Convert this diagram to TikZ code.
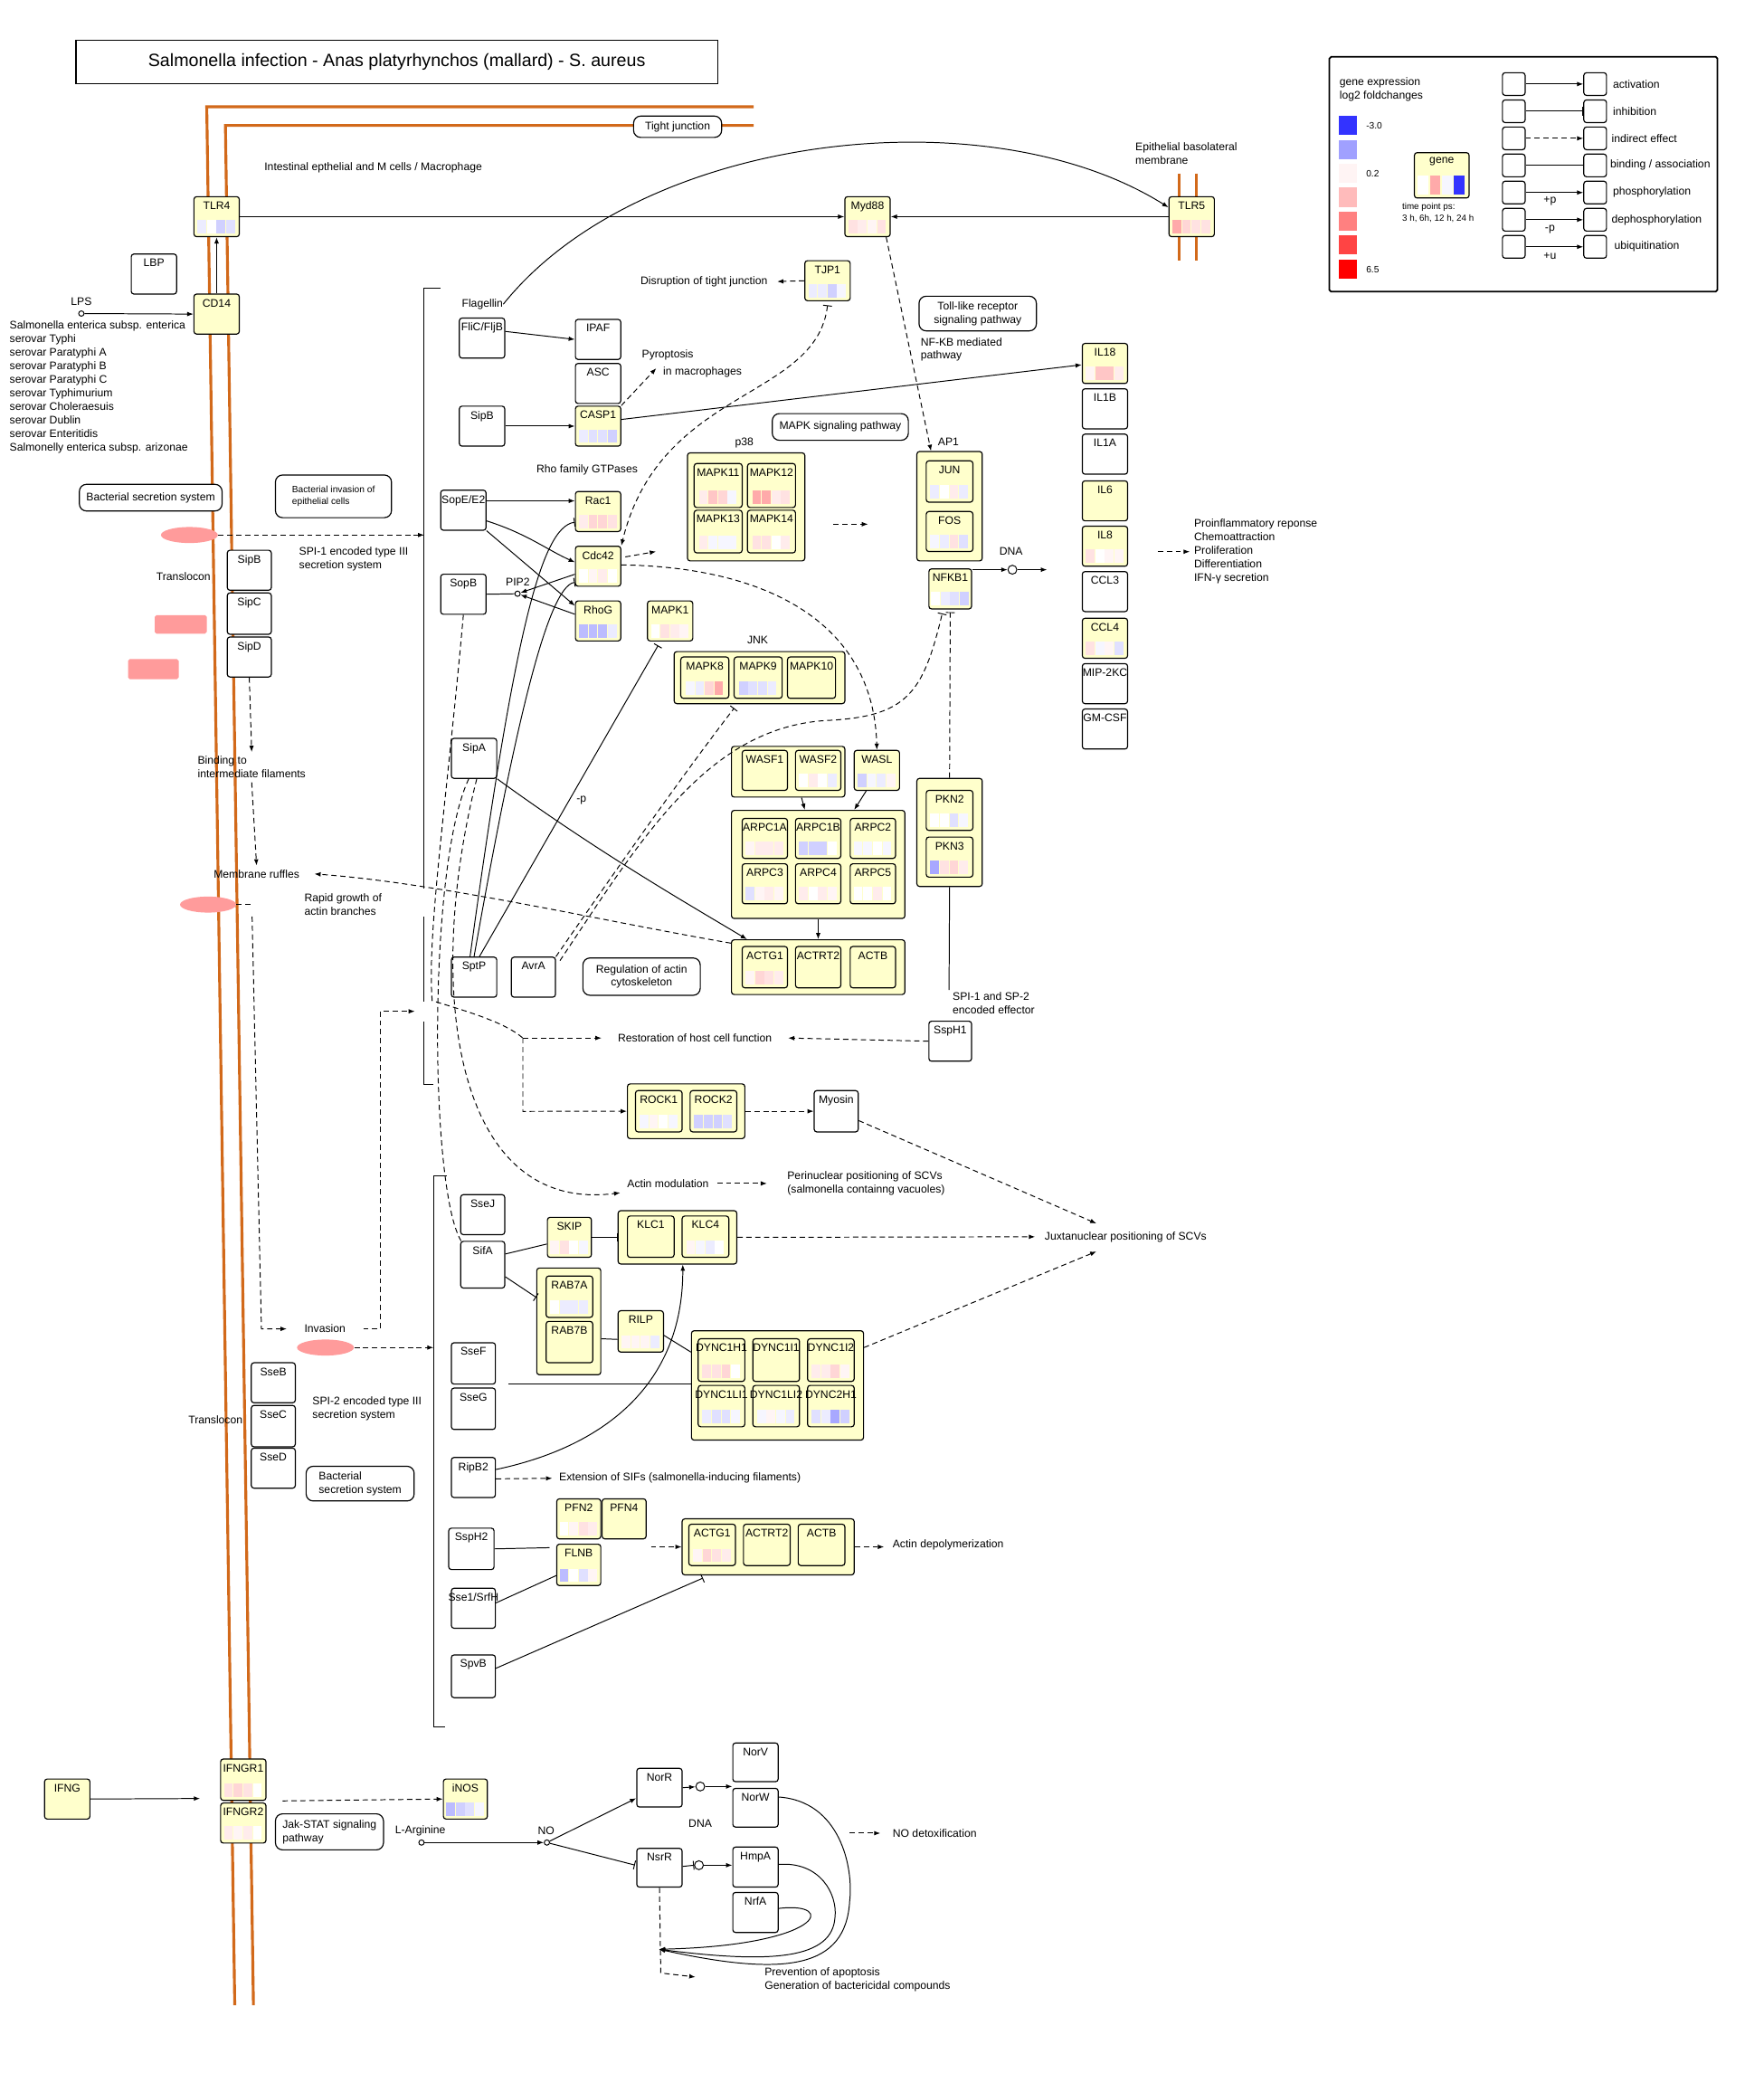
\documentclass[tikz,border=0pt]{standalone}
\usepackage{fontspec}
\setmainfont{Liberation Sans}
\usetikzlibrary{arrows.meta,calc,shapes.geometric}

\definecolor{geneyel}{HTML}{FFFFCC}
\definecolor{memb}{HTML}{D2691A}
\definecolor{pinkell}{HTML}{FF9B9B}
\definecolor{wh}{HTML}{FFFFFF}
\definecolor{b0}{HTML}{F6F6FF}
\definecolor{b1}{HTML}{ECECFF}
\definecolor{b2}{HTML}{E0E0FF}
\definecolor{b3}{HTML}{D0D0FF}
\definecolor{b4}{HTML}{BCBCFF}
\definecolor{b5}{HTML}{A8A8FF}
\definecolor{r0}{HTML}{FFF5F5}
\definecolor{r1}{HTML}{FFECEC}
\definecolor{r2}{HTML}{FFE2E2}
\definecolor{r3}{HTML}{FFD6D6}
\definecolor{r4}{HTML}{FFC6C6}
\definecolor{r5}{HTML}{FFAAAA}
\definecolor{lg1}{HTML}{3333FF}
\definecolor{lg2}{HTML}{A0A0FF}
\definecolor{lg3}{HTML}{FFF4F4}
\definecolor{lg4}{HTML}{FFBBBB}
\definecolor{lg5}{HTML}{FF8080}
\definecolor{lg6}{HTML}{FF4444}
\definecolor{lg7}{HTML}{FF0000}

% gene box: [style]{name}{top left}{label}
\newcommand{\gbox}[4][gene]{\node[#1,label={[glabel]north:#4}] (#2) at (#3) {};}
% expression bars at the foot of a gene box
\newcommand{\bars}[2]{\foreach \bc [count=\bi from 0] in {#2}
  {\fill[\bc] ($(#1.south)+(-14.4+7.2*\bi,-3)$) rectangle +(6.6,-10);}}

\tikzset{
  gene/.style={draw,line width=0.6pt,fill=geneyel,rounded corners=1.5pt,anchor=north west,
    inner sep=0,minimum width=25.5pt,minimum height=22.5pt},
  wbox/.style={gene,fill=white},
  grp/.style={gene},
  sz/.style 2 args={minimum width=#1*0.75pt,minimum height=#2*0.75pt},
  glabel/.style={anchor=north,inner xsep=0,inner ysep=2.9pt},
  pw/.style={draw,line width=0.6pt,fill=white,rounded corners=4pt,inner sep=1pt,align=center},
  txt/.style={anchor=west,inner sep=0,align=left},
  cpd/.style={circle,draw,fill=white,inner sep=0,minimum size=3pt,line width=0.5pt},
  dna/.style={cpd,minimum size=5pt},
  ell/.style={ellipse,fill=pinkell,inner sep=0,minimum height=9pt},
  lnk/.style={line width=0.5pt},
  dsh/.style={lnk,dash pattern=on 3pt off 2pt},
  act/.style={lnk,-{Latex[length=3.5pt,width=2.6pt]}},
  ind/.style={act,dash pattern=on 3pt off 2pt},
  inh/.style={lnk,-{Bar[width=5pt]}},
  dinh/.style={inh,dash pattern=on 3pt off 2pt},
  membl/.style={memb,line width=1.6pt}
}

\begin{document}
\begin{tikzpicture}[x=0.75pt,y=-0.75pt,font=\fontsize{6.2}{7.6}\selectfont]
\path[use as bounding box,fill=white] (0,0) rectangle (1322,1568);

% membranes
\draw[membl] (565,80) -- (155,80) -- (176,1503);
\draw[membl] (565,94) -- (169,94) -- (190,1503);
\draw[membl] (884,130) -- (884,195) (897,130) -- (897,195);

\node[draw,line width=0.6pt,sz={481}{33},font=\fontsize{10}{12}\selectfont] (title) at (297.5,46.5)
  {Salmonella infection - Anas platyrhynchos (mallard) - S. aureus};

% legend
\node[draw,line width=0.9pt,rounded corners=1pt,sz={291}{176},anchor=north west] (legend) at (996,42) {};
\node[txt] (lgexp) at (1004,67) {gene expression\\log2 foldchanges};
\foreach \bc [count=\bi from 0] in {lg1,lg2,lg3,lg4,lg5,lg6,lg7}
  \fill[\bc] (1004,87+17.9*\bi) rectangle +(13.6,14.3);
\node[txt,font=\fontsize{5.2}{6}\selectfont] (lgmin) at (1024,94) {-3.0};
\node[txt,font=\fontsize{5.2}{6}\selectfont] (lgmid) at (1024,130) {0.2};
\node[txt,font=\fontsize{5.2}{6}\selectfont] (lgmax) at (1024,202) {6.5};
\gbox[gene,sz={41}{34}]{lggene}{1060,114}{gene}
\foreach \bc [count=\bi from 0] in {wh,r5,b0,lg1}
  \fill[\bc] (1063+9*\bi,131.5) rectangle +(8,14);
\node[txt,font=\fontsize{5}{6.6}\selectfont] (lgtime) at (1051,159.5) {time point ps:\\3 h, 6h, 12 h, 24 h};
\foreach \yy [count=\k] in {63,83.4,103.7,124,144.3,164.7,185} {
  \node[wbox,sz={17}{17},anchor=west] (la\k) at (1126,\yy) {};
  \node[wbox,sz={17}{17},anchor=west] (lb\k) at (1187,\yy) {};
}
\draw[act] (la1) -- (lb1);
\draw[inh] (la2) -- (lb2);
\draw[ind] (la3) -- (lb3);
\draw[lnk] (la4) -- (lb4);
\draw[act] (la5) -- (lb5);
\draw[act] (la6) -- (lb6);
\draw[act] (la7) -- (lb7);
\node[txt] (lt1) at (1209,63) {activation};
\node[txt] (lt2) at (1209,83.4) {inhibition};
\node[txt] (lt3) at (1208,103.7) {indirect effect};
\node[txt] (lt4) at (1207,124) {binding / association};
\node[txt] (lt5) at (1209,144.3) {phosphorylation};
\node[txt] (lt6) at (1208,164.7) {dephosphorylation};
\node[txt] (lt7) at (1210,185) {ubiquitination};
\node (lp1) at (1162,151) {+p};
\node (lp2) at (1162,172) {-p};
\node (lp3) at (1162,192) {+u};

% membrane receptors
\node[pw,sz={66}{16}] (tj) at (508,95) {Tight junction};
\node[txt] (tintest) at (198,126) {Intestinal epthelial and M cells / Macrophage};
\node[txt] (tbaso) at (851,115) {Epithelial basolateral\\membrane};
\gbox{tlr4}{145,147}{TLR4} \bars{tlr4}{b1,wh,b3,b2}
\gbox{cd14}{145,220}{CD14}
\gbox[wbox]{lbp}{98,190}{LBP}
\gbox{myd88}{633,147}{Myd88} \bars{myd88}{r2,r1,r0,r2}
\gbox{tlr5}{876,147}{TLR5} \bars{tlr5}{r5,r3,r2,r2}
\node[cpd] (lps) at (61,235) {};
\node (tlps) at (61,226) {LPS};
\node[txt,anchor=north west] (tsal) at (7,240.5) {Salmonella enterica subsp. enterica\\serovar Typhi\\serovar Paratyphi A\\serovar Paratyphi B\\serovar Paratyphi C\\serovar Typhimurium\\serovar Choleraesuis\\serovar Dublin\\serovar Enteritidis\\Salmonelly enterica subsp. arizonae};
\draw[act] (lps) -- (cd14.west);
\draw[act] (cd14.north) -- (tlr4.south);
\draw[act] (tlr4.east) -- (myd88.west);
\draw[act] (tlr5.west) -- (myd88.east);

\node[txt] (flag) at (346,228) {Flagellin};
\draw[act] (flag.east) .. controls (480,100) and (740,70) .. ($(tlr5.west)+(0,-7)$);

\gbox{tjp1}{603,195}{TJP1} \bars{tjp1}{b1,b1,b3,b0}
\node[txt] (tdisr) at (480,211) {Disruption of tight junction};
\draw[ind] (tjp1.west) -- ($(tdisr.east)+(7,0)$);
\node[pw,sz={88}{26}] (tlrpw) at (733,235) {Toll-like receptor\\signaling pathway};
\node[txt] (tnfkb) at (690,262) {NF-KB mediated\\pathway};

% inflammasome
\gbox[wbox]{flic}{344,238}{FliC/FljB}
\gbox[wbox]{ipaf}{431,239}{IPAF}
\gbox[wbox]{asc}{431,272}{ASC}
\gbox{casp1}{431,304}{CASP1} \bars{casp1}{b1,b2,b2,b3}
\gbox[wbox]{sipb}{344,304}{SipB}
\draw[act] ($(flic.east)+(0,-5)$) -- (ipaf.west);
\draw[act] (sipb.east) -- (casp1.west);
\node[txt] (tpyro) at (481,266) {Pyroptosis};
\node[txt] (tmacro) at (497,279) {in macrophages};
\draw[ind] (casp1.north east) -- ($(tmacro.west)+(-5,-3)$);

% cytokines
\gbox{il18}{811,257}{IL18} \bars{il18}{r0,r4,r4,r1}
\gbox[wbox]{il1b}{811,291}{IL1B}
\gbox[wbox]{il1a}{811,325}{IL1A}
\gbox{il6}{811,360}{IL6}
\gbox{il8}{811,394}{IL8} \bars{il8}{r2,wh,r0,r0}
\gbox[wbox]{ccl3}{811,428}{CCL3}
\gbox{ccl4}{811,463}{CCL4} \bars{ccl4}{r2,b0,r0,b2}
\gbox[wbox]{mip}{811,497}{MIP-2KC}
\gbox[wbox]{gmcsf}{811,531}{GM-CSF}
\draw[act] ($(casp1.east)+(0,-5)$) -- ($(il18.west)+(0,1)$);
\node[txt] (tinfl) at (895,413.5) {Proinflammatory reponse\\Chemoattraction\\Proliferation\\Differentiation\\IFN-γ secretion};
\draw[ind] ($(tinfl.west)+(-27,0)$) -- ($(tinfl.west)+(-3,0)$);

% MAPK
\node[pw,sz={102}{20}] (mapkpw) at (630,320) {MAPK signaling pathway};
\node (tp38) at (558,332) {p38};
\node[grp,sz={88}{81}] (p38) at (515,339) {};
\gbox[gene,sz={36}{33}]{mapk11}{520,347}{MAPK11} \bars{mapk11}{r1,r4,r3,b0}
\gbox[gene,sz={36}{33}]{mapk12}{560,347}{MAPK12} \bars{mapk12}{r5,r5,r1,r2}
\gbox[gene,sz={36}{32}]{mapk13}{520,382}{MAPK13} \bars{mapk13}{r1,b0,b0,b0}
\gbox[gene,sz={36}{32}]{mapk14}{560,382}{MAPK14} \bars{mapk14}{r2,r2,wh,r1}
\draw[ind] ($(p38.east)+(21,13)$) -- ($(p38.east)+(47,13)$);

\node[txt] (tap1) at (703,331) {AP1};
\node[grp,sz={49}{82}] (ap1) at (687,338) {};
\gbox[gene,sz={35}{31}]{jun}{694,345}{JUN} \bars{jun}{b1,wh,r1,b1}
\gbox[gene,sz={35}{30}]{fos}{694,383}{FOS} \bars{fos}{b0,b1,r2,b2}
\gbox[gene,sz={32}{30}]{nfkb1}{696,426}{NFKB1} \bars{nfkb1}{wh,b1,b2,b3}
\draw[ind] ($(myd88.south)+(14,0)$) -- ($(ap1.north west)+(11,0)$);
\node[dna] (dna1) at (759,427) {};
\node[txt] (tdna1) at (749,413) {DNA};
\draw[act] ($(nfkb1.north east)+(0,1)$) -- (dna1);
\draw[act] (dna1) -- ($(dna1)+(26,0)$);

% Rho GTPases
\node[txt] (trho) at (402,352) {Rho family GTPases};
\gbox[wbox]{sope}{330,367}{SopE/E2}
\gbox{rac1}{431,368}{Rac1} \bars{rac1}{r1,r3,r3,r2}
\gbox{cdc42}{431,409}{Cdc42} \bars{cdc42}{wh,r0,r1,wh}
\gbox{rhog}{431,450}{RhoG} \bars{rhog}{b4,b4,b4,b1}
\gbox{mapk1}{485,450}{MAPK1} \bars{mapk1}{wh,r2,r1,r0}
\gbox[wbox]{sopb}{330,430}{SopB}
\node[cpd] (pip2) at (388,445) {};
\node[txt] (tpip2) at (379,436) {PIP2};
\draw[act] ($(sope.east)+(0,-7)$) -- ($(rac1.west)+(0,-8)$);
\draw[act] ($(sope.east)+(0,8)$) .. controls (395,400) and (410,412) .. ($(cdc42.west)+(0,-3)$);
\draw[act] (sope.south east) -- ($(rhog.north west)+(0,4)$);
\draw[lnk] (sopb.east) -- (pip2);
\draw[act] ($(cdc42.west)+(0,6)$) -- (pip2);
\draw[act] ($(rhog.west)+(0,-5)$) -- (pip2);
\draw[ind] ($(cdc42.east)+(3,-7)$) -- ($(cdc42.east)+(26,-11)$);
\draw[{Bar[width=5pt]}-{Latex[length=3.5pt,width=2.6pt]},lnk,dash pattern=on 3pt off 2pt]
  ($(tjp1.south)+(0,3)$) .. controls (612,300) and (495,290) .. (cdc42.north east);

% JNK
\node (tjnk) at (568,480) {JNK};
\node[grp,sz={128}{39}] (jnk) at (505,488) {};
\gbox[gene,sz={36}{31}]{mapk8}{510,492}{MAPK8} \bars{mapk8}{b0,b1,r3,r5}
\gbox[gene,sz={36}{31}]{mapk9}{550,492}{MAPK9} \bars{mapk9}{b3,b2,b2,b1}
\gbox[gene,sz={36}{31}]{mapk10}{590,492}{MAPK10}

% actin
\node[grp,sz={85}{38}] (wasf) at (548,559) {};
\gbox{wasf1}{556,562}{WASF1}
\gbox{wasf2}{596,562}{WASF2} \bars{wasf2}{wh,r1,wh,b1}
\gbox{wasl}{640,562}{WASL} \bars{wasl}{b3,b0,b1,r0}
\node[grp,sz={130}{81}] (arpc) at (548,607) {};
\gbox{arpc1a}{556,613}{ARPC1A} \bars{arpc1a}{r0,r1,r1,r1}
\gbox{arpc1b}{596,613}{ARPC1B} \bars{arpc1b}{b3,b3,b3,wh}
\gbox{arpc2}{637,613}{ARPC2} \bars{arpc2}{b0,b0,wh,b0}
\gbox{arpc3}{556,647}{ARPC3} \bars{arpc3}{b2,r0,r1,r0}
\gbox{arpc4}{596,647}{ARPC4} \bars{arpc4}{r1,wh,r1,r0}
\gbox{arpc5}{637,647}{ARPC5} \bars{arpc5}{wh,wh,r1,wh}
\node[grp,sz={130}{41}] (actg) at (548,704) {};
\gbox[gene,sz={34}{31}]{actg1}{556,709}{ACTG1} \bars{actg1}{r0,r3,r2,r1}
\gbox[gene,sz={34}{31}]{actrt2}{596,709}{ACTRT2}
\gbox[gene,sz={34}{31}]{actb}{637,709}{ACTB}
\draw[act] ($(wasf.south)+(10,0)$) -- ($(arpc.north)+(-10,0)$);
\draw[act] ($(wasl.south)+(-8,0)$) -- ($(arpc.north)+(27,0)$);
\draw[act] (arpc.south) -- (actg.north);
\draw[ind] ($(cdc42.east)+(0,-1)$) .. controls (580,425) and (655,470) .. (wasl.north);

\node[grp,sz={49}{81}] (pkn) at (687,583) {};
\gbox[gene,sz={35}{30}]{pkn2}{694,592}{PKN2} \bars{pkn2}{wh,wh,b2,b0}
\gbox[gene,sz={35}{30}]{pkn3}{694,627}{PKN3} \bars{pkn3}{b5,r2,r3,r1}
\draw[dinh] (pkn.north) -- ($(nfkb1.south)+(0,2)$);
\coordinate (spiend) at (711.5,742);
\draw[lnk] (pkn.south) -- (spiend);
\node[txt] (tspi12) at (714,752) {SPI-1 and SP-2\\encoded effector};
\gbox[wbox,sz={32}{30}]{ssph1}{696,765}{SspH1}

% SPI-1 effectors
\gbox[wbox]{sipa}{338,553}{SipA}
\gbox[wbox]{sptp}{338,717}{SptP}
\gbox[wbox,sz={33}{30}]{avra}{383,717}{AvrA}
\node[pw,sz={88}{28}] (actreg) at (481,732) {Regulation of actin\\cytoskeleton};
\node[txt] (tminp) at (432,600) {-p};
\draw[inh] ($(sptp.north)+(-3,0)$) .. controls (385,480) and (405,395) .. ($(rac1.west)+(0,8)$);
\draw[inh] (sptp.north) .. controls (385,550) and (410,440) .. ($(cdc42.west)+(0,12)$);
\draw[inh] ($(sptp.north)+(4,0)$) -- ($(mapk1.south)+(-9,3)$);
\draw[dinh] (avra.north east) .. controls (470,640) and (520,570) .. ($(jnk.south)+(-19,3)$);
\draw[dinh] ($(avra.north east)+(3,3)$) .. controls (480,630) and (530,545) .. (620,540)
  .. controls (680,537) and (692,520) .. ($(nfkb1.south)+(-6,3)$);
\draw[act] (sipa.south east) .. controls (450,640) and (520,680) .. ($(actg.north west)+(12,0)$);

% SPI-1 secretion
\node[pw,sz={107}{20}] (bss1) at (113,373) {Bacterial secretion system};
\node[pw,sz={87}{32},font=\fontsize{5.2}{6.6}\selectfont,align=left] (binv) at (250,372) {Bacterial invasion of\\epithelial cells};
\node[ell,minimum width=32pt] (ell1) at (142,401) {};
\coordinate (br1a) at (318,401);
\draw[ind] (ell1.east) -- (br1a);
\gbox[wbox,sz={33}{30}]{sipb2}{170,412}{SipB}
\gbox[wbox,sz={33}{31}]{sipc}{170,444}{SipC}
\gbox[wbox,sz={33}{30}]{sipd}{170,477}{SipD}
\node[txt] (ttrans1) at (117,432) {Translocon};
\node[txt] (tspi1) at (224,419) {SPI-1 encoded type III\\secretion system};
\fill[pinkell,rounded corners=1pt] (116,461) rectangle (155,475);
\fill[pinkell,rounded corners=1pt] (96,494) rectangle (134,509);
\node[txt] (tbind) at (148,575) {Binding to\\intermediate filaments};
\draw[ind] (sipd.south) -- ($(tbind.north)+(0,-3)$);
\node[txt] (trfl) at (160,655) {Membrane ruffles};
\draw[ind] ($(tbind.south)+(0,3)$) -- ($(trfl.north)+(0,-3)$);
\draw[ind] ($(actg.west)+(0,-18)$) .. controls (450,690) and (330,662) .. ($(trfl.east)+(11,0)$);
\node[ell,minimum width=31.5pt] (ell2) at (156,678) {};
\node[txt] (trapid) at (228,678) {Rapid growth of\\actin branches};
\node[txt] (tinv) at (228,996) {Invasion};
\draw[dsh] (ell2.east) -- (189,678);
\draw[ind] (189,687) -- (196,996) -- ($(tinv.west)+(-13,0)$);
\draw[ind] ($(tinv.east)+(13,0)$) -- (285,996) -- (285,758) -- (311,758);
\node[ell,minimum width=32pt] (ell3) at (244,1010) {};
\coordinate (br2a) at (325,1010);
\draw[ind] (ell3.east) -- (br2a);

% brackets
\draw[lnk] (330,216) -- (318,216) -- (318,666) (318,687) -- (318,751) (318,766) -- (318,813) -- (325,813);
\draw[lnk] (335,881) -- (325,881) -- (325,1294) -- (334,1294);

% host cell restoration
\node[grp,sz={88}{41}] (rock) at (470,812) {};
\gbox[gene,sz={35}{31}]{rock1}{476,817}{ROCK1} \bars{rock1}{b0,r0,wh,b0}
\gbox[gene,sz={35}{31}]{rock2}{517,817}{ROCK2} \bars{rock2}{b3,b3,b3,b2}
\gbox[wbox,sz={33}{31}]{myosin}{610,817}{Myosin}
\coordinate (rst) at (392,778);
\draw[dsh] (sopb.south) .. controls (335,600) and (320,700) .. (324,750) .. controls (350,758) and (378,766) .. (rst);
\node[txt] (trest) at (463,778) {Restoration of host cell function};
\draw[ind] (rst) -- ($(trest.west)+(-12,0)$);
\draw[ind] (rst) -- (392,833) -- (rock.west);
\draw[ind] (ssph1.west) -- ($(trest.east)+(12,0)$);
\draw[ind] (rock.east) -- (myosin.west);
\coordinate (jx1) at (822,917);
\coordinate (jx2) at (822,938);
\draw[ind] ($(myosin.east)+(0,7)$) -- (jx1);
\node[txt] (tjuxta) at (783,927) {Juxtanuclear positioning of SCVs};

\node[txt] (tactmod) at (470,887) {Actin modulation};
\node[txt] (tperi) at (590,887) {Perinuclear positioning of SCVs\\(salmonella containng vacuoles)};
\draw[ind] ($(tactmod.east)+(6,0)$) -- ($(tperi.west)+(-15,0)$);
\draw[ind] ($(sipa.south)+(2,0)$) .. controls (318,740) and (340,910) .. ($(tactmod.west)+(-5,7)$);

% SPI-2 effectors
\gbox[wbox,sz={33}{30}]{ssej}{345,895}{SseJ}
\gbox[wbox,sz={33}{35}]{sifa}{345,930}{SifA}
\draw[dsh] ($(sipa.south)+(-4,0)$) .. controls (320,650) and (322,900) .. ($(sifa.north west)+(2,2)$);
\gbox[gene,sz={33}{30}]{skip}{410,912}{SKIP} \bars{skip}{r0,r2,wh,b0}
\node[grp,sz={89}{40}] (klc) at (463,907) {};
\gbox[gene,sz={35}{31}]{klc1}{470,911}{KLC1}
\gbox[gene,sz={35}{31}]{klc4}{511,911}{KLC4} \bars{klc4}{r0,b0,b1,wh}
\node[grp,sz={48}{80}] (rab7) at (402,950) {};
\gbox[gene,sz={35}{31}]{rab7a}{409,956}{RAB7A} \bars{rab7a}{wh,b1,b1,b1}
\gbox[gene,sz={35}{31}]{rab7b}{409,990}{RAB7B}
\gbox[gene,sz={34}{31}]{rilp}{463,982}{RILP} \bars{rilp}{r0,r0,r0,b1}
\node[grp,sz={129}{82}] (dync) at (518,997) {};
\gbox[gene,sz={35}{32}]{dync1h1}{523,1003}{DYNC1H1} \bars{dync1h1}{r2,r2,r3,wh}
\gbox[gene,sz={35}{32}]{dync1i1}{564,1003}{DYNC1I1}
\gbox[gene,sz={35}{32}]{dync1i2}{605,1003}{DYNC1I2} \bars{dync1i2}{r1,r1,r3,r0}
\gbox[gene,sz={35}{31}]{dync1li1}{523,1038}{DYNC1LI1} \bars{dync1li1}{b1,b2,b2,b0}
\gbox[gene,sz={35}{31}]{dync1li2}{564,1038}{DYNC1LI2} \bars{dync1li2}{b0,r0,b0,b1}
\gbox[gene,sz={35}{31}]{dync2h1}{605,1038}{DYNC2H1} \bars{dync2h1}{b2,b1,b5,b3}
\draw[lnk] ($(sifa.east)+(0,-8)$) -- ($(skip.west)+(0,5)$);
\draw[inh] ($(sifa.east)+(0,9)$) -- ($(rab7.west)+(0,-18)$);
\draw[inh] (skip.east) -- (klc.west);
\draw[lnk] ($(rab7.east)+(0,13)$) -- ($(rilp.west)+(0,6)$);
\draw[lnk] ($(rilp.east)+(0,3)$) -- ($(dync.west)+(0,-25)$);
\draw[ind] (klc.east) -- ($(tjuxta.west)+(-7,0)$);
\draw[ind] ($(dync.north east)+(0,13)$) -- (jx2);

\gbox[wbox,sz={33}{31}]{ssef}{338,1006}{SseF}
\gbox[wbox,sz={33}{31}]{sseg}{338,1040}{SseG}
\coordinate (sfg) at (381,1037);
\draw[lnk] (sfg) -- (dync.west |- sfg);
\gbox[wbox,sz={33}{30}]{ripb2}{338,1092}{RipB2}
\draw[act] ($(ripb2.east)+(0,-6)$) .. controls (450,1085) and (512,1040) .. ($(klc.south)+(4,0)$);
\node[txt] (tsif) at (419,1108) {Extension of SIFs (salmonella-inducing filaments)};
\draw[ind] ($(ripb2.east)+(0,1)$) -- ($(tsif.west)+(-5,0)$);

\gbox[gene,sz={33}{30}]{pfn2}{417,1123}{PFN2} \bars{pfn2}{wh,r0,r2,r1}
\gbox[gene,sz={33}{30}]{pfn4}{451,1123}{PFN4}
\gbox[gene,sz={33}{31}]{flnb}{417,1157}{FLNB} \bars{flnb}{b4,wh,b2,r0}
\gbox[wbox,sz={34}{31}]{ssph2}{336,1145}{SspH2}
\gbox[wbox,sz={33}{30}]{sse1}{338,1190}{Sse1/SrfH}
\gbox[wbox,sz={33}{32}]{spvb}{338,1240}{SpvB}
\node[grp,sz={129}{42}] (actg2) at (511,1138) {};
\gbox[gene,sz={35}{31}]{actg1b}{516,1142}{ACTG1} \bars{actg1b}{r0,r3,r2,r1}
\gbox[gene,sz={35}{31}]{actrt2b}{557,1142}{ACTRT2}
\gbox[gene,sz={35}{31}]{actbb}{598,1142}{ACTB}
\draw[lnk] (ssph2.east) -- ($(flnb.north west)+(-5,3)$);
\draw[lnk] ($(sse1.east)+(0,-4)$) -- ($(flnb.west)+(0,8)$);
\draw[inh] ($(spvb.east)+(0,-6)$) -- ($(actg2.south west)+(16,2)$);
\draw[ind] ($(actg2.west)+(-23,0)$) -- (actg2.west);
\draw[ind] (actg2.east) -- ($(actg2.east)+(22,0)$);
\node[txt] (tdepol) at (669,1158) {Actin depolymerization};

% SPI-2 secretion
\gbox[wbox,sz={33}{30}]{sseb}{188,1021}{SseB}
\gbox[wbox,sz={33}{31}]{ssec}{188,1053}{SseC}
\gbox[wbox,sz={33}{30}]{ssed}{188,1085}{SseD}
\node[txt] (ttrans2) at (141,1064) {Translocon};
\node[txt] (tspi2) at (234,1056) {SPI-2 encoded type III\\secretion system};
\node[pw,sz={81}{26},align=left] (bss2) at (270,1112) {Bacterial\\secretion system};

% IFN-gamma / NO
\gbox[gene,sz={34}{30}]{ifng}{33,1333}{IFNG}
\gbox[gene,sz={34}{31}]{ifngr1}{165,1318}{IFNGR1} \bars{ifngr1}{r2,r3,r2,wh}
\gbox[gene,sz={34}{30}]{ifngr2}{165,1351}{IFNGR2} \bars{ifngr2}{r1,r0,r1,wh}
\gbox[gene,sz={33}{30}]{inos}{332,1333}{iNOS} \bars{inos}{b4,b3,b2,b0}
\coordinate (ifnin) at (150,1348);
\draw[act] (ifng.east) -- (ifnin);
\draw[ind] ($(ifngr1.south east)+(12,0)$) -- (inos.west);
\node[pw,sz={81}{27},align=left] (jak) at (247,1373) {Jak-STAT signaling\\pathway};
\node[cpd] (larg) at (316,1381) {};
\node[txt] (tlarg) at (296,1372) {L-Arginine};
\node[cpd] (no) at (410,1381) {};
\node[txt] (tno) at (403,1372) {NO};
\draw[act] (larg) -- (no);
\gbox[wbox,sz={34}{29}]{norr}{477,1325}{NorR}
\gbox[wbox,sz={34}{29}]{norv}{549,1306}{NorV}
\gbox[wbox,sz={34}{29}]{norw}{549,1340}{NorW}
\gbox[wbox,sz={34}{29}]{nsrr}{477,1385}{NsrR}
\gbox[wbox,sz={34}{30}]{hmpa}{549,1384}{HmpA}
\gbox[wbox,sz={34}{30}]{nrfa}{549,1418}{NrfA}
\draw[act] (no) -- ($(norr.south west)+(0,-7)$);
\draw[inh] (no) -- ($(nsrr.west)+(-1,-2)$);
\node[dna] (dna2) at (525,1339) {};
\draw[act] (norr.east) -- (dna2);
\draw[act] (dna2) -- (norw.west |- dna2);
\node[dna] (dna3) at (524,1398) {};
\draw[inh] ($(nsrr.east)+(0,-1)$) -- (dna3.west);
\draw[act] (dna3) -- (hmpa.west |- dna3);
\node[txt] (tdna2) at (516,1367) {DNA};
\coordinate (prev) at (494,1461);
\draw[act] ($(norw.east)+(0,-8)$) .. controls (630,1350) and (640,1400) .. (637,1425)
  .. controls (634,1475) and (590,1482) .. (prev);
\draw[act] ($(hmpa.east)+(0,-2)$) .. controls (615,1395) and (628,1420) .. (626,1437)
  .. controls (624,1468) and (580,1472) .. (prev);
\draw[act] ($(nrfa.east)+(0,-3)$) .. controls (628,1425) and (618,1458) .. (prev);
\draw[ind] (nsrr.south) -- ($(nsrr.south)+(1,64)$) -- ($(nsrr.south)+(27,67)$);
\node[txt] (tprev) at (573,1484) {Prevention of apoptosis\\Generation of bactericidal compounds};
\node[txt] (tnodet) at (669,1374) {NO detoxification};
\draw[ind] ($(tnodet.west)+(-32,0)$) -- ($(tnodet.west)+(-9,0)$);
\end{tikzpicture}
\end{document}
